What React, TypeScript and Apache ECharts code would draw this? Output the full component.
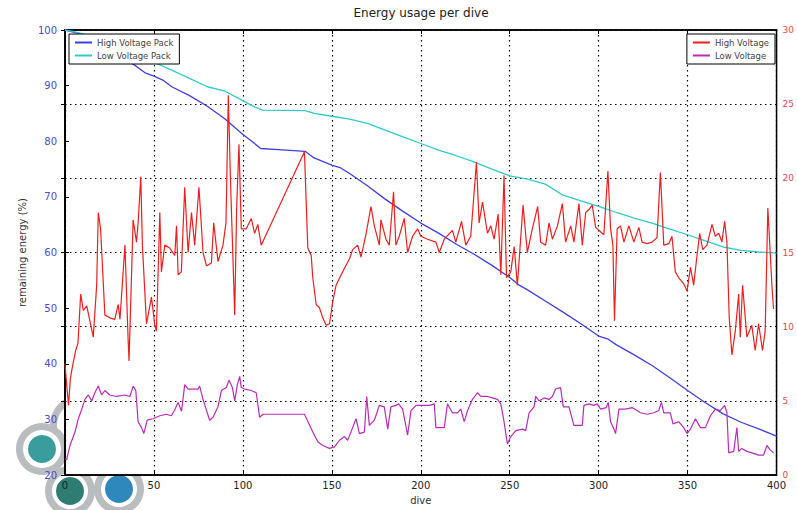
import React, { useEffect, useRef } from "react";
import * as echarts from "echarts";

const titleText = "Energy usage per dive";
const xTicks = { min: 0, max: 400, interval: 50 };
const leftTicks = { min: 20, max: 100, interval: 10 };
const rightTicks = { min: 0, max: 30, interval: 5 };

const highVoltagePack: [number, number][] = [
  [0, 100], [10, 99.2], [20, 97.7], [30, 95.5], [40, 93.5], [45, 92.3], [50, 91.7], [55, 91], [60, 89.8],
  [70, 88.2], [80, 86.3], [90, 84], [100, 81.2], [105, 80], [110, 78.7], [120, 78.5], [135, 78.2],
  [140, 77], [150, 75.7], [155, 75.2], [160, 74.2], [170, 72], [180, 69.6], [190, 67.4], [200, 65.3],
  [210, 63.5], [220, 61.5], [230, 59.7], [240, 57.7], [250, 55.5], [255, 54.2], [260, 53.3], [270, 51.3],
  [280, 49.3], [290, 47.2], [300, 45], [305, 44.5], [310, 43.4], [320, 41.6], [330, 39.7], [340, 37.5],
  [350, 35.2], [360, 33], [370, 31], [380, 29.5], [390, 28.3], [400, 27],
];

const lowVoltagePack: [number, number][] = [
  [0, 100], [5, 99.7], [10, 99.3], [20, 98], [30, 96.8], [40, 95.5], [50, 94.2], [60, 92.8], [70, 91.3],
  [80, 89.8], [90, 89], [100, 87.3], [105, 86.4], [111, 85.6], [135, 85.5], [140, 85], [150, 84.5],
  [160, 84], [170, 83.2], [180, 82], [190, 80.8], [200, 79.6], [210, 78.4], [220, 77.4], [230, 76.3],
  [240, 75], [250, 73.8], [260, 73.2], [270, 72.3], [280, 70.3], [290, 69.3], [300, 68.3], [310, 67.2],
  [320, 66.2], [330, 65.3], [340, 64.2], [350, 63.2], [360, 62.1], [370, 61], [380, 60.4], [390, 60.1],
  [400, 59.9],
];

const highVoltage: [number, number][] = [
  [0, 7.5], [1, 6], [2, 4.7], [3, 6.5], [4, 7.2], [5, 7.8], [6, 8.4], [7.3, 8.9], [8.8, 12.2], [10.3, 11.1],
  [12.2, 11.4], [14, 10.4], [15.9, 9.3], [17.8, 12.8], [18.7, 17.7], [20, 16.6], [21.5, 13], [22.4, 10.8],
  [25.2, 10.6], [28, 10.5], [29.9, 11.5], [30.9, 10.5], [33.7, 15.5], [35.5, 9.1], [36, 7.7], [38.3, 17.2],
  [40.2, 15.7], [41.1, 17], [42.6, 20.1], [43.5, 15.5], [45.8, 10.2], [48.6, 12], [50.5, 10.1], [51.4, 9.7],
  [53.3, 17.7], [54.2, 13.7], [56.1, 15.5], [58.9, 15.3], [61.7, 14.8], [62.7, 16.8], [63.6, 13.5],
  [65.4, 13.7], [67.3, 19.4], [69.2, 15], [71.1, 17.7], [72.9, 15.5], [75.3, 19.4], [77.6, 15], [79.5, 14.1],
  [82.3, 14.3], [83.6, 17], [86, 14.4], [88.8, 15.5], [90.5, 17], [91.8, 25.6], [93, 20], [95.4, 10.8],
  [96.5, 18], [97.8, 22.3], [99.1, 16.6], [101.9, 16.6], [104.7, 17.3], [106.6, 16.3], [108.4, 16.9],
  [110.3, 15.5], [134.6, 21.8], [136.5, 15.3], [138.4, 14.8], [139.3, 13.3], [141.2, 11.5], [143, 11.3],
  [144.9, 10.6], [146.8, 10.1], [148.7, 10.2], [150.5, 11.7], [152.4, 12.8], [156.1, 13.7], [160, 14.6],
  [161.7, 15.2], [164.5, 15.5], [166.4, 14.7], [169.3, 16.3], [172, 18.1], [173.9, 16.8], [176.7, 15.5],
  [177.6, 17.2], [180.4, 15.9], [182.3, 15.5], [184.7, 19.1], [186, 15.5], [187.9, 16.1], [190.7, 17.3],
  [192.6, 15], [195.4, 16.1], [198.2, 16.6], [200, 16.1], [203.8, 15.9], [208.5, 15.7], [210.4, 15],
  [213.2, 15.9], [217.8, 16.5], [219.7, 15.7], [222.9, 17.1], [225.3, 15.5], [228.1, 16.1], [231.3, 21.1],
  [232.8, 17], [234.7, 18.4], [237.5, 16.3], [239.4, 16.8], [241.2, 15.9], [243.5, 17.6], [245, 13.5],
  [246.8, 20.2], [248.2, 13.3], [250.6, 13.7], [252.5, 15.4], [254.3, 12.8], [257.5, 18.2], [259.9, 15],
  [262.7, 16.6], [265.7, 18.1], [267.4, 15.7], [270.2, 15.5], [272.1, 17], [274, 15.9], [276.8, 16.8],
  [279.6, 18.3], [281.4, 15.7], [284.3, 16.8], [286.1, 15.7], [288.9, 18.3], [290.8, 15.5], [292.7, 17.7],
  [294.5, 17.9], [296.4, 18.2], [298.3, 16.7], [302.9, 16.2], [305.2, 20.5], [306.7, 16.6], [308, 15.5],
  [308.9, 10.4], [310.4, 16.6], [312.3, 16.8], [314.2, 15.7], [317, 16.8], [319.8, 15.7], [322.6, 16.7],
  [324.4, 15.7], [327.2, 15.6], [330, 15.7], [332.8, 16], [334.7, 20.4], [336.6, 15.5], [339.4, 15.6],
  [341.2, 16.1], [343.1, 13.7], [345, 13.3], [347.8, 12.9], [349.7, 12.4], [351.6, 14], [353.4, 12.8],
  [355.3, 14.8], [356.8, 16.3], [358.5, 15.2], [360.9, 15.5], [363.7, 16.9], [365.6, 16.1], [367.5, 16.3],
  [369.3, 15.7], [370.8, 17.1], [372.1, 15.7], [373.4, 10.6], [374.9, 8.1], [376.8, 9.7], [378.7, 12.2],
  [379.6, 9.3], [380.9, 12.8], [383.3, 9.3], [386.1, 10.1], [388, 8.4], [389.9, 10.2], [392.1, 8.4],
  [393.6, 9.7], [395.1, 18], [397.4, 12.8], [398.3, 11.2],
];

const lowVoltage: [number, number][] = [
  [0, 1.1], [0.9, 1.03], [2.8, 2.0], [5.6, 2.9], [7.5, 3.8], [9.3, 4.4], [11.2, 5.1], [13.1, 5.4], [15, 5.0],
  [16.8, 5.55], [18.7, 6.0], [20.6, 5.4], [22.4, 5.7], [25.2, 5.4], [29, 5.3], [33.7, 5.4], [36.5, 5.3],
  [38.3, 6.0], [39.8, 5.7], [41.1, 3.6], [43, 3.2], [44.3, 2.8], [46.2, 3.7], [49.5, 3.8], [53.3, 4.0],
  [57, 4.1], [59.8, 4.0], [61.7, 4.4], [63.6, 4.9], [65.5, 4.3], [67.3, 6.1], [69.2, 5.8], [74.8, 5.8],
  [75.7, 6.0], [77.6, 5.1], [81.3, 3.7], [83.2, 3.9], [86, 4.6], [87.9, 5.7], [90.7, 5.9], [92.2, 6.4],
  [94.1, 5.9], [95.4, 5.0], [96.9, 6.1], [98.2, 6.65], [99.1, 5.9], [101, 5.8], [104.7, 5.7], [107.5, 5.55],
  [109.4, 3.9], [111.3, 4.1], [134.6, 4.1], [139.3, 2.9], [142.1, 2.25], [144.9, 2.0], [148.7, 1.8],
  [151.5, 1.9], [154.3, 2.35], [157.1, 2.6], [158.9, 2.35], [161.7, 3.2], [163.6, 3.8], [165.5, 2.8],
  [168.3, 2.9], [169.6, 5.3], [171.1, 3.35], [173.9, 3.7], [176.7, 4.7], [179.5, 4.6], [181.4, 3.1],
  [183.2, 4.6], [186, 4.7], [187.5, 4.8], [189.8, 4.45], [192.6, 2.7], [194.5, 4.35], [197.3, 4.7],
  [201, 4.7], [204.8, 4.7], [207.6, 4.8], [208.5, 3.2], [213.2, 3.2], [215, 4.8], [217.8, 4.2], [220.6, 4.2],
  [222.5, 4.45], [224.4, 3.6], [226.3, 4.35], [229, 5.1], [231.9, 5.55], [233.7, 5.3], [237.5, 5.3],
  [240.3, 5.2], [243.1, 5.1], [245, 4.8], [246.8, 3.6], [248.7, 2.1], [250.6, 2.6], [253.4, 3.0],
  [257.1, 3.1], [259, 3.0], [260.9, 4.2], [263.7, 4.6], [264.6, 5.3], [266.5, 5.0], [269.3, 5.2],
  [272.1, 5.1], [274, 5.3], [275.8, 5.8], [278.6, 5.9], [280.1, 4.6], [283.3, 4.6], [286.1, 3.35],
  [290.8, 3.35], [291.7, 4.7], [294.5, 4.8], [297.3, 4.7], [299.2, 4.8], [301.1, 4.45], [304.2, 4.55],
  [305.4, 4.9], [306.7, 3.6], [308.6, 3.1], [309.5, 2.8], [311.4, 4.45], [315.1, 4.45], [318.8, 4.55],
  [321.6, 4.35], [323.5, 4.2], [327.2, 4.1], [331, 4.2], [333.8, 4.35], [335.3, 4.9], [336.6, 4.2],
  [340.3, 4.2], [341.8, 3.45], [345, 3.6], [347.8, 3.2], [349.7, 2.8], [351.6, 3.1], [354.4, 3.8],
  [357.2, 3.2], [360, 3.2], [362.8, 4.0], [365.6, 4.45], [368.4, 4.35], [370.8, 4.7], [372.1, 4.2],
  [373.1, 1.5], [375.9, 1.6], [377.7, 3.2], [378.7, 1.6], [380.5, 1.8], [383.3, 1.6], [386.1, 1.5],
  [389.9, 1.35], [392.7, 1.35], [394.6, 2.0], [396.4, 1.7], [398.3, 1.5],
];

const FONT = "DejaVu Sans";

export default function App() {
  const ref = useRef<HTMLDivElement>(null);
  useEffect(() => {
    document.body.style.margin = "0";
    if (!ref.current) return;
    const chart = echarts.init(ref.current, undefined, { renderer: "svg" });
    const dotted = { color: "#000", width: 1.2, type: [1.5, 3.5] as number[] };
    const legendBase = {
      orient: "vertical",
      top: 34,
      icon: "rect",
      itemWidth: 17,
      itemHeight: 2,
      itemGap: 4,
      padding: [4, 6, 4, 6],
      borderColor: "#000",
      borderWidth: 1,
      backgroundColor: "#fff",
      textStyle: { fontSize: 8.5, color: "#444", fontFamily: FONT },
    };
    const logoGray = "#b9bdc0";
    const circle = (cx: number, cy: number, r: number, fill: string) => ({
      type: "circle",
      z: -10,
      shape: { cx, cy, r },
      style: { fill },
      silent: true,
    });
    chart.setOption({
      animation: false,
      backgroundColor: "#fff",
      textStyle: { fontFamily: FONT },
      grid: {
        left: 65,
        right: 19,
        top: 30,
        bottom: 26,
        show: true,
        backgroundColor: "#fff",
        borderColor: "#000",
        borderWidth: 1.5,
        z: 0,
      },
      graphic: [
        circle(80, 425, 30, logoGray),
        circle(80, 425, 23, "#fff"),
        circle(42, 449, 26, logoGray),
        circle(42, 449, 19, "#fff"),
        circle(42, 449, 14, "#3a9d9d"),
        circle(70, 491, 25, logoGray),
        circle(70, 491, 18, "#fff"),
        circle(70, 491, 14, "#2f7c72"),
        circle(119, 489, 25, logoGray),
        circle(119, 489, 18, "#fff"),
        circle(119, 489, 14, "#2e88bb"),
        {
          type: "text",
          x: 421,
          y: 7,
          z: 10,
          style: {
            text: titleText,
            textAlign: "center",
            fontSize: 12,
            fill: "#222",
            fontFamily: FONT,
          },
        },
      ],
      legend: [
        { ...legendBase, left: 69, data: ["High Voltage Pack", "Low Voltage Pack"] },
        { ...legendBase, right: 22, data: ["High Voltage", "Low Voltage"] },
      ],
      xAxis: [
        {
          type: "value",
          ...xTicks,
          name: "dive",
          nameLocation: "middle",
          nameGap: 16,
          nameTextStyle: { fontSize: 10, color: "#333", fontFamily: FONT },
          axisLine: { show: true, lineStyle: { color: "#000", width: 1.5 } },
          axisTick: { show: true, inside: true, length: 4, lineStyle: { color: "#000" } },
          axisLabel: { fontSize: 10, color: "#222", margin: 5, fontFamily: FONT },
          splitLine: { show: true, lineStyle: dotted },
        },
        {
          type: "value",
          position: "top",
          ...xTicks,
          axisLine: { show: true, lineStyle: { color: "#000", width: 1.5 } },
          axisTick: { show: true, inside: true, length: 4, lineStyle: { color: "#000" } },
          axisLabel: { show: false },
          splitLine: { show: false },
        },
      ],
      yAxis: [
        {
          type: "value",
          ...leftTicks,
          name: "remaining energy (%)",
          nameLocation: "middle",
          nameGap: 35,
          nameTextStyle: { fontSize: 10, color: "#333", fontFamily: FONT },
          axisLine: { show: true, lineStyle: { color: "#000", width: 1.5 } },
          axisTick: { show: true, inside: true, length: 4, lineStyle: { color: "#000" } },
          axisLabel: { fontSize: 10, color: "#4a4ad6", margin: 8, fontFamily: FONT },
          splitLine: { show: false },
        },
        {
          type: "value",
          position: "right",
          ...rightTicks,
          axisLine: { show: true, lineStyle: { color: "#000", width: 1.5 } },
          axisTick: { show: true, inside: true, length: 4, lineStyle: { color: "#000" } },
          axisLabel: { fontSize: 9, color: "#e84a4a", margin: 6, fontFamily: FONT },
          splitLine: { show: true, lineStyle: dotted },
        },
      ],
      series: [
        {
          name: "High Voltage Pack",
          type: "line",
          xAxisIndex: 0,
          yAxisIndex: 0,
          data: highVoltagePack,
          showSymbol: false,
          lineStyle: { color: "#3f3fe6", width: 1.3 },
          itemStyle: { color: "#3f3fe6" },
          z: 3,
        },
        {
          name: "Low Voltage Pack",
          type: "line",
          xAxisIndex: 0,
          yAxisIndex: 0,
          data: lowVoltagePack,
          showSymbol: false,
          lineStyle: { color: "#2fcaca", width: 1.3 },
          itemStyle: { color: "#2fcaca" },
          z: 3,
        },
        {
          name: "High Voltage",
          type: "line",
          xAxisIndex: 0,
          yAxisIndex: 1,
          data: highVoltage,
          showSymbol: false,
          lineStyle: { color: "#f01e1e", width: 1.2 },
          itemStyle: { color: "#f01e1e" },
          z: 3,
        },
        {
          name: "Low Voltage",
          type: "line",
          xAxisIndex: 0,
          yAxisIndex: 1,
          data: lowVoltage,
          showSymbol: false,
          lineStyle: { color: "#bb2bbb", width: 1.2 },
          itemStyle: { color: "#bb2bbb" },
          z: 3,
        },
      ],
    });
    return () => chart.dispose();
  }, []);
  return <div ref={ref} style={{ width: 797, height: 510 }} />;
}
